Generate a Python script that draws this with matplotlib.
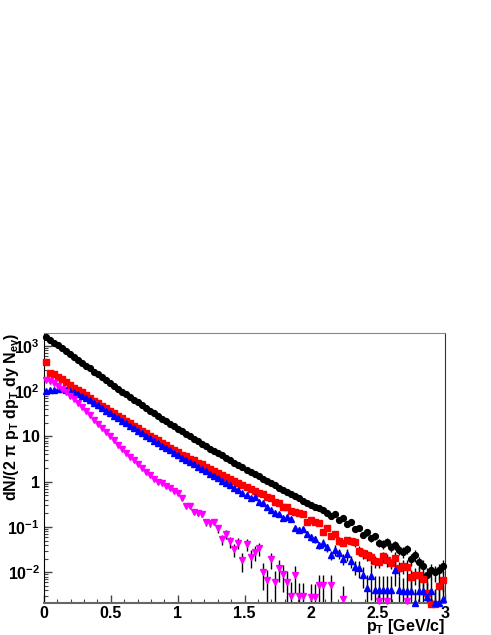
import numpy as np
import matplotlib
matplotlib.use("Agg")
import matplotlib.pyplot as plt
from matplotlib.ticker import FixedLocator, LogLocator, MultipleLocator, NullFormatter

plt.rcParams['font.family'] = ['Liberation Sans', 'DejaVu Sans']
plt.rcParams['font.weight'] = 'bold'
plt.rcParams['mathtext.fontset'] = 'custom'
plt.rcParams['mathtext.rm'] = 'Liberation Sans:bold'
plt.rcParams['mathtext.it'] = 'Liberation Sans:bold'
plt.rcParams['mathtext.bf'] = 'Liberation Sans:bold'

# pT bins: 100 bins of 30 MeV from 0 to 3 GeV/c
bin_width = 0.03
pt = np.arange(100) * bin_width + bin_width / 2

black = [1550, 1350, 1175, 1023, 891, 759, 661, 575, 490, 427, 363, 316, 269, 234, 200, 174, 148,
         129, 112, 97.7, 85.1, 74.1, 64.6, 56.2, 49.0, 42.7, 37.2, 32.4, 28.2, 24.5, 21.4, 19.1, 16.6, 14.5,
         12.9, 11.2, 10.0, 8.91, 7.76, 6.92, 6.17, 5.37, 4.79, 4.27, 3.80, 3.31, 2.95, 2.63, 2.34, 2.09,
         1.86, 1.66, 1.48, 1.32, 1.17, 1.05, 0.933, 0.832, 0.741, 0.661, 0.589, 0.525, 0.479, 0.427, 0.380, 0.339, 0.302,
         0.275, 0.263, 0.240, 0.200, 0.174, 0.191, 0.145, 0.158, 0.117, 0.126, 0.0891, 0.0955, 0.0676, 0.0759, 0.0562, 0.0631,
         0.0447, 0.0417, 0.0468, 0.0355, 0.0398, 0.0316, 0.0282, 0.0331, 0.0200, 0.0240, 0.0166, 0.0141, 0.00891, 0.0112,
         0.0100, 0.0112, 0.0141]

red = [447, 257, 234, 209, 182, 158, 138, 120, 107, 93.3, 81.3, 70.8, 61.7, 55.0, 47.9, 41.7, 37.2,
       32.4, 28.2, 25.1, 21.9, 19.5, 17.0, 15.1, 13.2, 11.7, 10.2, 9.12, 8.13, 7.08, 6.31, 5.62, 5.01, 4.47,
       3.98, 3.63, 3.24, 2.95, 2.63, 2.40, 2.14, 1.95, 1.74, 1.58, 1.41, 1.29, 1.15, 1.05, 0.933, 0.851,
       0.759, 0.708, 0.631, 0.575, 0.525, 0.457, 0.427, 0.355, 0.331, 0.282, 0.275, 0.224, 0.219, 0.209, 0.191, 0.126, 0.141,
       0.132, 0.120, 0.0794, 0.0955, 0.0631, 0.0708, 0.0501, 0.0447, 0.0525, 0.0479, 0.0457, 0.0302, 0.0263, 0.0240, 0.0219, 0.0178,
       0.0166, 0.0224, 0.0191, 0.0158, 0.0209, 0.0126, 0.0141, 0.0132, 0.00794, 0.00891, 0.00891, 0.00708, 0.00355, 0.00204,
       0.00204, 0.00501, 0.00692]

blue = [100, 105, 107, 110, 110, 107, 102, 95.5, 87.1, 79.4, 70.8, 63.1, 55.0, 49.0, 42.7, 37.2, 32.4,
        28.8, 25.1, 21.9, 19.5, 17.0, 15.1, 13.2, 11.7, 10.2, 9.12, 7.94, 7.08, 6.17, 5.50, 4.90, 4.27, 3.80,
        3.39, 3.02, 2.69, 2.40, 2.14, 1.91, 1.70, 1.51, 1.32, 1.20, 1.05, 0.933, 0.832, 0.724, 0.661, 0.550,
        0.501, 0.437, 0.468, 0.363, 0.331, 0.275, 0.240, 0.200, 0.191, 0.158, 0.166, 0.148, 0.0955, 0.0871, 0.0891, 0.0692, 0.0603,
        0.0550, 0.0398, 0.0437, 0.0355, 0.0240, 0.0316, 0.0263, 0.0200, 0.0251, 0.0178, 0.0132, 0.0126, 0.00891, 0.00447, 0.00832, 0.00417,
        0.00417, 0.00417, 0.00417, 0.00417, 0.0112, 0.00417, 0.0038, 0.0038, 0.0038, 0.00214, 0.0038, 0.0038, 0.00282, 0.0038,
        0.00214, 0.00214, 0.00251]

nan = np.nan
magenta = [178, 166, 151, 132, 112, 95.5, 79.4, 67.6, 55.0, 45.7, 36.3, 29.5, 23.4, 19.1, 15.5, 12.3, 10.0,
           8.13, 6.61, 5.37, 4.37, 3.55, 2.95, 2.40, 2.00, 1.66, 1.38, 1.15, 1.00, 0.933, 0.794, 0.741, 0.631, 0.550,
           0.437, 0.288, 0.295, 0.219, 0.200, 0.195, 0.126, 0.120, 0.132, 0.0933, 0.0537, 0.0708, 0.0479, 0.0324, 0.0447, 0.0186,
           0.0417, 0.0214, 0.0282, 0.0339, 0.0102, 0.00676, 0.0195, 0.00617, 0.0123, 0.00912, 0.00617, 0.00302, 0.00871,
           0.00295, 0.00295,
           nan, 0.00282, 0.00282, 0.00525, 0.00525, nan, 0.00525, nan, nan, 0.00251,
           nan, nan, nan, nan, nan, nan, nan, nan, 0.00229, nan, 0.00229, nan, nan, nan, nan, 0.00229,
           nan, nan, nan, nan, nan, nan, nan, nan, nan]

# relative errors of the last bins (bars hidden under the markers before that)
black_rel = [0.08, 0.08, 0.09, 0.09, 0.10, 0.11, 0.10, 0.12, 0.11, 0.13, 0.13, 0.15, 0.14, 0.17, 0.16, 0.18, 0.17,
             0.20, 0.21, 0.20, 0.22, 0.21, 0.24, 0.26, 0.23, 0.30, 0.28, 0.32, 0.35, 0.42, 0.38, 0.40, 0.38, 0.35]
red_rel = [0.10, 0.11, 0.14, 0.12, 0.15, 0.14, 0.17, 0.18, 0.16, 0.17, 0.18, 0.22, 0.24, 0.25, 0.27, 0.30, 0.30,
           0.26, 0.28, 0.31, 0.27, 0.35, 0.33, 0.34, 0.45, 0.42, 0.42, 0.47, 0.52, 0.70, 1.0, 1.0, 0.55, 0.48]
blue_rel = [0.10, 0.10, 0.12, 0.15, 0.15, 0.15, 0.17, 0.18, 0.19, 0.22, 0.21, 0.23, 0.28, 0.25, 0.27, 0.31, 0.29,
            0.33, 0.40, 0.50, 1.0, 0.70, 1.0, 1.0, 1.0, 1.0, 1.0, 0.55, 1.0, 1.0, 1.0, 1.0, 1.0, 1.0, 1.0, 1.0,
            1.0, 1.0, 1.0, 1.0]
magenta_rel = [0.05, 0.05, 0.06, 0.06, 0.08, 0.10, 0.10, 0.12, 0.12, 0.13, 0.16, 0.16, 0.16, 0.20, 0.26, 0.22,
               0.28, 0.33, 0.28, 0.45, 0.30, 0.42, 0.36, 0.33, 0.60, 0.70, 0.40, 0.72, 0.50, 0.60, 0.72, 1.0,
               0.60, 1.0, 1.0, 0, 1.0, 1.0, 0.7, 0.7, 0, 0.7, 0, 0, 1.0, 0, 0, 0, 0, 0, 0, 0, 0, 1.0, 0, 1.0,
               0, 0, 0, 0, 1.0, 0, 0, 0, 0, 0, 0, 0, 0, 0]

ytick_vals = [0.01, 0.1, 1, 10, 100, 1000]
ytick_text = ['10$^{-2}$', '10$^{-1}$', '1', '10', '10$^{2}$', '10$^{3}$']
xtick_vals = [0, 0.5, 1, 1.5, 2, 2.5, 3]
xtick_text = ['0', '0.5', '1', '1.5', '2', '2.5', '3']

W, H = 491, 635
fig = plt.figure(figsize=(W / 100, H / 100), dpi=100)
ax = fig.add_axes([44 / W, 32 / H, 401 / W, 270 / H])


def draw(values, rel_tail, marker, color, ms):
    y = np.array(values, dtype=float)
    rel = np.concatenate([np.zeros(len(y) - len(rel_tail)), np.array(rel_tail, dtype=float)])
    ok = np.isfinite(y) & (rel > 0)
    lo = np.maximum(y * (1 - rel), 1e-6)
    hi = y * (1 + rel)
    ax.vlines(pt[ok], lo[ok], hi[ok], colors='black', lw=1.0, zorder=2)
    ax.plot(pt, y, ls='none', marker=marker, color=color, mec=color, ms=ms, clip_on=False, zorder=3)


draw(black, black_rel, 'o', 'black', 4.2)
draw(red, red_rel, 's', 'red', 4.0)
draw(blue, blue_rel, '^', 'blue', 4.4)
draw(magenta, magenta_rel, 'v', 'magenta', 4.4)

ax.set_yscale('log')
ax.set_xlim(0, 3)
ax.set_ylim(0.0021, 1920)

ax.yaxis.set_major_locator(FixedLocator(ytick_vals))
ax.set_yticklabels(ytick_text)
ax.yaxis.set_minor_locator(LogLocator(base=10, subs=range(2, 10)))
ax.yaxis.set_minor_formatter(NullFormatter())
ax.set_xticks(xtick_vals)
ax.set_xticklabels(xtick_text)
ax.xaxis.set_minor_locator(MultipleLocator(0.1))

ax.tick_params(which='both', direction='in', top=False, right=False, labelsize=11.5, color='#444444')
ax.tick_params(which='major', length=6, width=1)
ax.tick_params(which='minor', length=3, width=0.8)
ax.tick_params(axis='x', pad=2)
ax.tick_params(axis='y', pad=3)

ax.spines['top'].set_color('#888888')
ax.spines['right'].set_color('#333333')
ax.spines['bottom'].set_color('#666666')
ax.spines['bottom'].set_linewidth(1.5)
ax.spines['left'].set_color('black')

fig.text(445 / W, 1 - 617 / H, r'p$_\mathrm{T}$ [GeV/c]', ha='right', va='top', fontsize=11.5)
fig.text(12 / W, 1 - 333 / H, r'dN/(2 π p$_\mathrm{T}$ dp$_\mathrm{T}$ dy N$_\mathrm{ev}$)',
         rotation=90, ha='center', va='top', fontsize=11.5)

fig.savefig('out.png', dpi=100)
